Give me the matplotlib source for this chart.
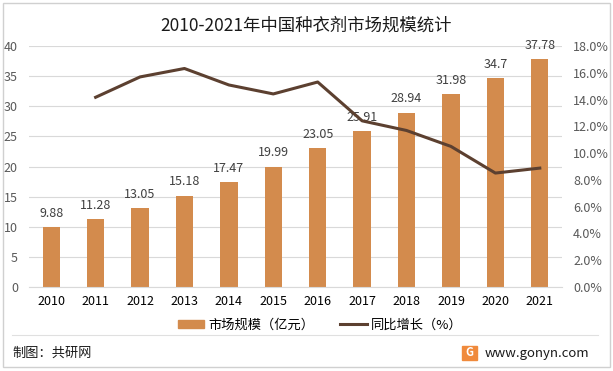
import matplotlib.pyplot as plt
import matplotlib.patches as mpatches
import matplotlib.lines as mlines
import numpy as np

plt.rcParams['font.family'] = ['Noto Sans CJK SC', 'DejaVu Sans']

years = ['2010', '2011', '2012', '2013', '2014', '2015', '2016', '2017', '2018', '2019', '2020', '2021']
market_size = [9.88, 11.28, 13.05, 15.18, 17.47, 19.99, 23.05, 25.91, 28.94, 31.98, 34.7, 37.78]
growth_years = ['2011', '2012', '2013', '2014', '2015', '2016', '2017', '2018', '2019', '2020', '2021']
growth_pct = [14.17, 15.69, 16.32, 15.09, 14.42, 15.31, 12.41, 11.69, 10.50, 8.51, 8.88]

bar_color = '#D38B4D'
line_color = '#5C4030'
tick_color = '#595959'
grid_color = '#D9D9D9'

fig = plt.figure(figsize=(6.13, 3.71), dpi=100)
ax = fig.add_axes([29 / 613, 1 - 287 / 371, 533 / 613, 241 / 371])

x = np.arange(len(years))
ax.bar(x, market_size, width=0.39, color=bar_color, zorder=2)
for xi, v in zip(x, market_size):
    ax.text(xi, v + 1.2, f'{v:g}', ha='center', va='bottom', fontsize=9, color='#404040')

ax.set_xlim(-0.5, len(years) - 0.5)
ax.set_ylim(0, 40)
ax.set_yticks(range(0, 41, 5))
ax.set_xticks(x)
ax.set_xticklabels(years, fontsize=9, color='black')
ax.tick_params(axis='y', length=0, labelsize=9, labelcolor=tick_color, pad=8)
ax.tick_params(axis='x', length=0, pad=6)
ax.grid(axis='y', color=grid_color, linewidth=0.8, zorder=0)
for s in ax.spines.values():
    s.set_visible(False)
ax.spines['bottom'].set_visible(True)
ax.spines['bottom'].set_color(grid_color)

ax2 = ax.twinx()
gx = [years.index(y) for y in growth_years]
ax2.plot(gx, growth_pct, color=line_color, linewidth=2.2, zorder=3)
ax2.set_ylim(0, 18)
ax2.set_yticks(np.arange(0, 18.1, 2))
ax2.set_yticklabels([f'{v:.1f}%' for v in np.arange(0, 18.1, 2)])
ax2.tick_params(axis='y', length=0, labelsize=9, labelcolor=tick_color, pad=8)
for s in ax2.spines.values():
    s.set_visible(False)

fig.text(306 / 613, 1 - 26 / 371, '2010-2021年中国种衣剂市场规模统计', ha='center', va='center',
         fontsize=12.5, color='#1a1a1a')

h1 = mpatches.Patch(color=bar_color, label='市场规模（亿元）')
h2 = mlines.Line2D([], [], color=line_color, linewidth=2.2, label='同比增长（%）')
fig.legend(handles=[h1, h2], loc='center', bbox_to_anchor=(320 / 613, 1 - 325 / 371), ncol=2,
           frameon=False, fontsize=9.5, handlelength=2.0, handleheight=0.55, columnspacing=2.0,
           handletextpad=0.3)

fig.add_artist(mlines.Line2D([12 / 613, 598 / 613], [1 - 335 / 371, 1 - 335 / 371],
                             color='#E0E0E0', linewidth=0.8))
fig.text(12 / 613, 1 - 353 / 371, '制图：共研网', ha='left', va='center', fontsize=9.5, color='#1a1a1a')
fig.text(485 / 613, 1 - 353 / 371, 'www.gonyn.com', ha='left', va='center', fontsize=9.5, color='#1a1a1a')
fig.add_artist(mpatches.Rectangle((462 / 613, 1 - 360 / 371), 15 / 613, 14 / 371,
                                  color='#F08A3C', transform=fig.transFigure))
fig.text(469.5 / 613, 1 - 353 / 371, 'G', ha='center', va='center', fontsize=8, color='white',
         fontweight='bold')

fig.add_artist(mpatches.Rectangle((3 / 613, 4 / 371), 607 / 613, 364 / 371, fill=False,
                                  edgecolor='#D0D0D0', linewidth=1, transform=fig.transFigure))

fig.savefig('out.png', dpi=100)
